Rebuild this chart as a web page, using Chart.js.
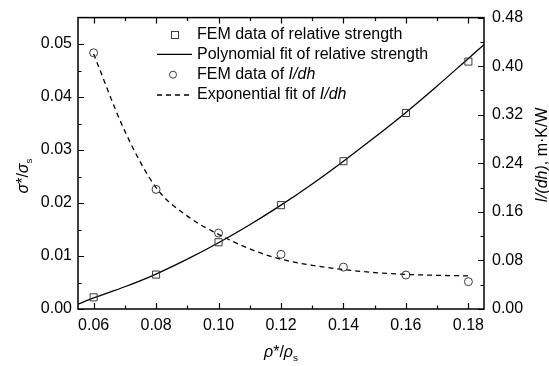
<!DOCTYPE html>
<html>
<head>
<meta charset="utf-8">
<script src="https://cdn.jsdelivr.net/npm/chart.js@4"></script>
<style>
  html, body { margin: 0; padding: 0; background: #fff; }
  #wrap { width: 549px; height: 366px; }
</style>
</head>
<body>
<div id="wrap"><canvas id="c" width="549" height="366"></canvas></div>
<script>
// ---- data ----
const densityX = [0.06, 0.08, 0.10, 0.12, 0.14, 0.16, 0.18];
const strengthFEM = [0.0022, 0.0065, 0.0126, 0.0196, 0.0279, 0.0370, 0.0467];
const resistanceFEM = [0.422, 0.197, 0.125, 0.090, 0.069, 0.056, 0.045];

const polyFitX = [0.055, 0.06, 0.07, 0.08, 0.09, 0.10, 0.11, 0.12, 0.13, 0.14, 0.15, 0.16, 0.17, 0.18, 0.185];
const polyFitY = [0.0009, 0.0021, 0.0042, 0.0066, 0.0094, 0.0125, 0.0159, 0.0196, 0.0236, 0.0279, 0.0324, 0.0371, 0.0421, 0.0473, 0.0499];

const expFitX = [0.06, 0.07, 0.08, 0.09, 0.10, 0.11, 0.12, 0.13, 0.14, 0.15, 0.16, 0.17, 0.18];
const expFitY = [0.420, 0.293, 0.200, 0.153, 0.123, 0.099, 0.082, 0.072, 0.065, 0.060, 0.057, 0.0555, 0.0545];

const xTicks = [0.06, 0.08, 0.10, 0.12, 0.14, 0.16, 0.18];
const xMinorTicks = [0.07, 0.09, 0.11, 0.13, 0.15, 0.17];
const leftTicks = [0.00, 0.01, 0.02, 0.03, 0.04, 0.05];
const leftMinorTicks = [0.005, 0.015, 0.025, 0.035, 0.045];
const rightTicks = [0.00, 0.08, 0.16, 0.24, 0.32, 0.40, 0.48];
const rightMinorTicks = [0.04, 0.12, 0.20, 0.28, 0.36, 0.44];

const legendLabels = [
  [{ t: 'FEM data of relative strength' }],
  [{ t: 'Polynomial fit of relative strength' }],
  [{ t: 'FEM data of ' }, { t: 'I/dh', it: true }],
  [{ t: 'Exponential fit of ' }, { t: 'I/dh', it: true }]
];

// ---- build datasets ----
const pts = (xs, ys) => xs.map((x, i) => ({ x: x, y: ys[i] }));
const FONT = '"Liberation Sans", Arial, Helvetica, sans-serif';

const datasets = [
  { label: 'FEM data of relative strength', data: pts(densityX, strengthFEM), yAxisID: 'y',
    showLine: false, pointStyle: 'rect', pointRadius: 5, pointBorderWidth: 1,
    pointBorderColor: '#3a3a3a', pointBackgroundColor: 'rgba(0,0,0,0)' },
  { label: 'Polynomial fit of relative strength', data: pts(polyFitX, polyFitY), yAxisID: 'y',
    showLine: true, pointRadius: 0, borderColor: '#000', borderWidth: 1.3, cubicInterpolationMode: 'monotone' },
  { label: 'FEM data of I/dh', data: pts(densityX, resistanceFEM), yAxisID: 'y2',
    showLine: false, pointStyle: 'circle', pointRadius: 4, pointBorderWidth: 1,
    pointBorderColor: '#3a3a3a', pointBackgroundColor: 'rgba(0,0,0,0)' },
  { label: 'Exponential fit of I/dh', data: pts(expFitX, expFitY), yAxisID: 'y2',
    showLine: true, pointRadius: 0, borderColor: '#000', borderWidth: 1.3, borderDash: [5, 4],
    cubicInterpolationMode: 'monotone' }
];

function drawRich(ctx, parts, x, y, size) {
  let w = 0;
  const m = parts.map(p => {
    const fs = p.sub ? size * 0.62 : size;
    const f = (p.it ? 'italic ' : '') + fs + 'px ' + FONT;
    ctx.font = f;
    const pw = ctx.measureText(p.t).width;
    w += pw;
    return { p, f, pw };
  });
  let cx = x - w / 2;
  m.forEach(o => {
    ctx.font = o.f;
    ctx.fillText(o.p.t, cx, y + (o.p.sub ? size * 0.28 : 0));
    cx += o.pw;
  });
}

const framePlugin = {
  id: 'frame',
  afterDraw(chart) {
    const ctx = chart.ctx;
    const a = chart.chartArea;
    const sx = chart.scales.x, sy = chart.scales.y, sy2 = chart.scales.y2;
    ctx.save();
    ctx.strokeStyle = '#000';
    ctx.lineWidth = 1.5;
    ctx.strokeRect(a.left, a.top, a.right - a.left, a.bottom - a.top);
    ctx.lineWidth = 1.2;
    const MAJ = 6, MIN = 3.5;
    ctx.beginPath();
    const xt = (vals, len) => vals.forEach(v => {
      const p = Math.round(sx.getPixelForValue(v)) + 0.5;
      ctx.moveTo(p, a.bottom); ctx.lineTo(p, a.bottom - len);
      ctx.moveTo(p, a.top); ctx.lineTo(p, a.top + len);
    });
    xt(xTicks, MAJ); xt(xMinorTicks, MIN);
    const lt = (vals, len) => vals.forEach(v => {
      const p = Math.round(sy.getPixelForValue(v)) + 0.5;
      ctx.moveTo(a.left, p); ctx.lineTo(a.left + len, p);
    });
    lt(leftTicks, MAJ); lt(leftMinorTicks, MIN);
    const rt = (vals, len) => vals.forEach(v => {
      const p = Math.round(sy2.getPixelForValue(v)) + 0.5;
      ctx.moveTo(a.right, p); ctx.lineTo(a.right - len, p);
    });
    rt(rightTicks, MAJ); rt(rightMinorTicks, MIN);
    ctx.stroke();

    // axis titles
    ctx.fillStyle = '#000';
    ctx.textBaseline = 'alphabetic';
    ctx.textAlign = 'left';
    drawRich(ctx, [{ t: 'ρ', it: true }, { t: '*/' }, { t: 'ρ', it: true }, { t: 's', sub: true }],
      (a.left + a.right) / 2, 357, 16);
    ctx.save();
    ctx.translate(28, 176);
    ctx.rotate(-Math.PI / 2);
    drawRich(ctx, [{ t: 'σ', it: true }, { t: '*/' }, { t: 'σ', it: true }, { t: 's', sub: true }], 0, 0, 16);
    ctx.restore();
    ctx.save();
    ctx.translate(547, 155);
    ctx.rotate(-Math.PI / 2);
    drawRich(ctx, [{ t: 'I/(dh)', it: true }, { t: ', m·K/W' }], 0, 0, 16);
    ctx.restore();

    // legend
    const mx = a.left + 96, lx0 = a.left + 79, lx1 = a.left + 114, tx = a.left + 119;
    legendLabels.forEach((parts, i) => {
      const cy = a.top + 16.5 + i * 20.3;
      ctx.strokeStyle = '#3a3a3a';
      ctx.lineWidth = 1;
      ctx.setLineDash([]);
      if (i === 0) {
        ctx.strokeRect(Math.round(mx - 3.5) + 0.5, Math.round(cy - 3.5) + 0.5, 7, 7);
      } else if (i === 2) {
        ctx.beginPath(); ctx.arc(mx - 1, cy, 3.5, 0, Math.PI * 2); ctx.stroke();
      } else {
        ctx.strokeStyle = '#000';
        ctx.lineWidth = 1.3;
        if (i === 3) ctx.setLineDash([5, 4]);
        ctx.beginPath(); ctx.moveTo(lx0, cy); ctx.lineTo(lx1, cy); ctx.stroke();
        ctx.setLineDash([]);
      }
      ctx.textBaseline = 'middle';
      let cx = tx;
      parts.forEach(p => {
        ctx.font = (p.it ? 'italic ' : '') + '16px ' + FONT;
        ctx.fillText(p.t, cx, cy);
        cx += ctx.measureText(p.t).width;
      });
    });
    ctx.restore();
  }
};

const tickFont = { family: FONT, size: 16 };
new Chart(document.getElementById('c'), {
  type: 'scatter',
  data: { datasets: datasets },
  options: {
    responsive: false,
    animation: false,
    devicePixelRatio: 1,
    layout: { padding: { top: 13, left: 0, right: 0, bottom: 0 } },
    plugins: { legend: { display: false }, tooltip: { enabled: false } },
    scales: {
      x: {
        type: 'linear', position: 'bottom', min: 0.055, max: 0.185,
        afterBuildTicks: s => { s.ticks = xTicks.map(v => ({ value: v })); },
        afterFit: s => { s.height = 57; },
        ticks: { callback: v => Number(v).toFixed(2), font: tickFont, color: '#000', padding: 7,
                 autoSkip: false, maxRotation: 0 },
        grid: { display: false, drawTicks: false },
        border: { display: false }
      },
      y: {
        type: 'linear', position: 'left', min: 0, max: 0.055,
        afterBuildTicks: s => { s.ticks = leftTicks.map(v => ({ value: v })); },
        afterFit: s => { s.width = 78; },
        ticks: { callback: v => Number(v).toFixed(2), font: tickFont, color: '#000', padding: 6 },
        grid: { display: false, drawTicks: false },
        border: { display: false }
      },
      y2: {
        type: 'linear', position: 'right', min: 0, max: 0.48,
        afterBuildTicks: s => { s.ticks = rightTicks.map(v => ({ value: v })); },
        afterFit: s => { s.width = 65; },
        ticks: { callback: v => Number(v).toFixed(2), font: tickFont, color: '#000', padding: 8 },
        grid: { display: false, drawTicks: false },
        border: { display: false }
      }
    }
  },
  plugins: [framePlugin]
});
</script>
</body>
</html>
